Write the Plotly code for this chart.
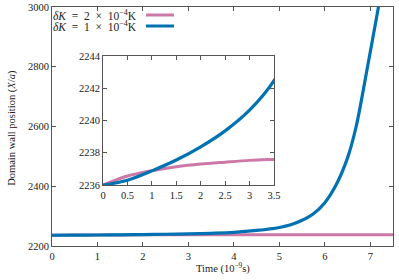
import plotly.graph_objects as go

# Data
t_blue = [0, 0.5, 1, 1.5, 2, 2.5, 3, 3.5, 4, 4.5, 5, 5.25, 5.5, 5.75, 6, 6.25, 6.5, 6.69, 6.94, 7.18, 7.25]
x_blue = [2236, 2236.3, 2236.88, 2237.55, 2238.37, 2239.36, 2240.64, 2242.47, 2245.5, 2252,
          2262, 2271, 2286, 2308, 2345, 2405, 2495, 2600, 2800, 3000, 3060]
t_pink = [0, 0.5, 1, 1.5, 2, 2.5, 3, 3.5, 4, 5, 6, 7, 7.5]
x_pink = [2236, 2236.56, 2236.89, 2237.13, 2237.3, 2237.42, 2237.53, 2237.59, 2237.64,
          2237.7, 2237.73, 2237.75, 2237.76]

labels = ["<i>δK</i>&nbsp; = &nbsp;2 &nbsp;× &nbsp;10<sup>−4</sup>K",
          "<i>δK</i>&nbsp; = &nbsp;1 &nbsp;× &nbsp;10<sup>−4</sup>K"]
x_title = "Time (10<sup>−9</sup>s)"
y_title = "Domain wall position (<i>X</i>/<i>a</i>)"
main_xticks = [0, 1, 2, 3, 4, 5, 6, 7]
main_yticks = [2200, 2400, 2600, 2800, 3000]
inset_xticks = [0, 0.5, 1, 1.5, 2, 2.5, 3, 3.5]
inset_yticks = [2236, 2238, 2240, 2242, 2244]

PINK = "#cc79a7"
BLUE = "#0072b2"
FONT = "Liberation Serif"
TXT = "#222"

fig = go.Figure()
for xa, ya in [("x", "y"), ("x2", "y2")]:
    fig.add_trace(go.Scatter(x=t_pink, y=x_pink, mode="lines",
                             line=dict(color=PINK, width=3, shape="spline", smoothing=0.9),
                             showlegend=False, xaxis=xa, yaxis=ya))
    fig.add_trace(go.Scatter(x=t_blue, y=x_blue, mode="lines",
                             line=dict(color=BLUE, width=3.2, shape="spline", smoothing=0.9),
                             showlegend=False, xaxis=xa, yaxis=ya))

axis_common = dict(showline=True, linecolor="#555", linewidth=1, mirror="allticks", ticks="inside",
                   ticklen=4, tickcolor="#555", showgrid=False, zeroline=False, automargin=False,
                   tickfont=dict(family=FONT, size=10.5, color=TXT))

fig.update_layout(
    width=399, height=280,
    margin=dict(l=52, r=6, t=7, b=34),
    paper_bgcolor="white", plot_bgcolor="white",
    font=dict(family=FONT, size=10.5, color=TXT),
    xaxis=dict(range=[0, 7.5], tickvals=main_xticks, domain=[0, 1], **axis_common),
    yaxis=dict(range=[2200, 3000], tickvals=main_yticks, domain=[0, 1], **axis_common),
    xaxis2=dict(range=[0, 3.5], tickvals=inset_xticks, domain=[0.1496, 0.651], anchor="y2",
                **axis_common),
    yaxis2=dict(range=[2236, 2244], tickvals=inset_yticks, domain=[0.255, 0.795], anchor="x2",
                **axis_common),
)

# Axis titles
fig.add_annotation(xref="paper", yref="paper", x=0.5, y=-0.092, text=x_title, showarrow=False,
                   xanchor="center", yanchor="middle", font=dict(family=FONT, size=10.5, color=TXT))
fig.add_annotation(xref="paper", yref="paper", x=-0.117, y=0.495, text=y_title, showarrow=False,
                   textangle=-90, xanchor="center", yanchor="middle",
                   font=dict(family=FONT, size=10.5, color=TXT))

# Legend (gnuplot-style: text on the left, sample line on the right)
legend_y = [0.9665, 0.9205]
colors = [PINK, BLUE]
for lab, yy, col in zip(labels, legend_y, colors):
    fig.add_annotation(xref="paper", yref="paper", x=0.255, y=yy, text=lab, showarrow=False,
                       xanchor="right", yanchor="middle", font=dict(family=FONT, size=11.5, color=TXT))
    fig.add_shape(type="line", xref="paper", yref="paper", x0=0.2757, x1=0.3578, y0=yy, y1=yy,
                  line=dict(color=col, width=3))

fig.write_html("out.html", config={"displayModeBar": False},
               post_script="document.body.style.margin='0px';")
